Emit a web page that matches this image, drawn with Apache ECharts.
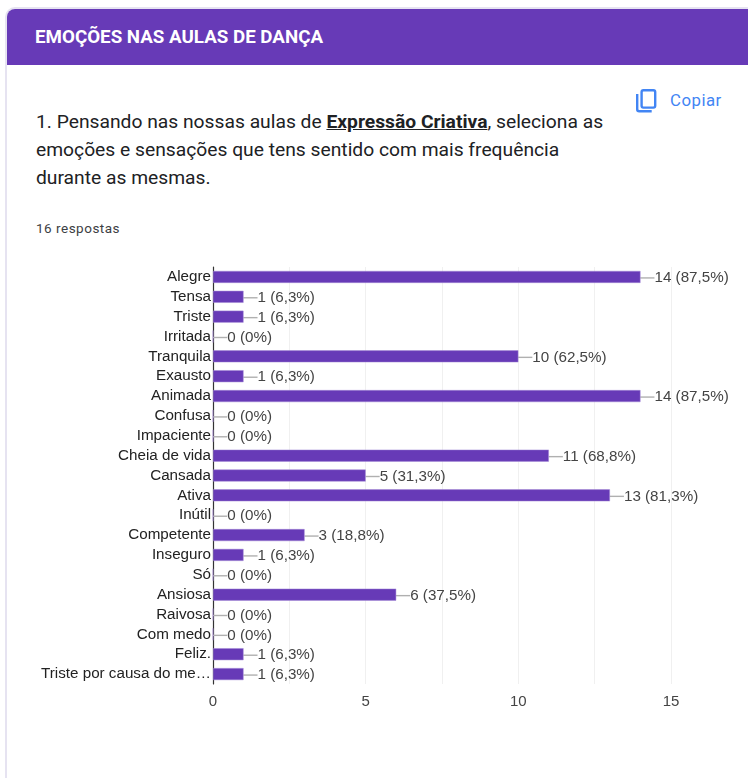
<!DOCTYPE html>
<html><head><meta charset="utf-8">
<script src="https://cdn.jsdelivr.net/npm/echarts@6/dist/echarts.min.js"></script>
<style>
html,body{margin:0;padding:0;background:#fff;width:748px;height:778px;overflow:hidden}
#card{position:absolute;left:5px;top:7px;width:760px;height:800px;border:2px solid #e6e3f1;border-radius:10px;box-sizing:border-box}
#head{position:absolute;left:7px;top:9px;width:741px;height:56px;background:#673ab7;border-radius:8px 0 0 0;}
#htext{position:absolute;left:35px;top:26px;font:700 18.75px/22px Roboto,sans-serif;color:#fff;white-space:nowrap}
#q{position:absolute;left:36px;top:107.5px;font:400 19.25px/28px Roboto,sans-serif;color:#202124;white-space:nowrap}
#q b{font-weight:700;text-decoration:underline}
#n{position:absolute;left:36px;top:220px;font:400 13.5px/17px Roboto,sans-serif;letter-spacing:.5px;color:#3c4043;white-space:nowrap}
#copy{position:absolute;left:670px;top:90px;font:400 16.8px/20px Roboto,sans-serif;letter-spacing:.5px;color:#4285f4}
#icon{position:absolute;left:633px;top:87px}
#c{position:absolute;left:0;top:0;width:748px;height:778px}
</style></head><body>
<div id="card"></div><div id="head"></div>
<div id="htext">EMOÇÕES NAS AULAS DE DANÇA</div>
<div id="q">1. Pensando nas nossas aulas de <b>Expressão Criativa</b>, seleciona as<br>emoções e sensações que tens sentido com mais frequência<br>durante as mesmas.</div>
<div id="n">16 respostas</div>
<svg id="icon" width="26" height="26" viewBox="0 0 26 26" fill="none" stroke="#4285f4" stroke-width="2.4"><path d="M4.2 7v15.2a2 2 0 0 0 2 2h12.5"/><rect x="8.6" y="3.2" width="13.6" height="17.4" rx="1.8"/></svg>
<div id="copy">Copiar</div>
<div id="c"></div>
<script>
const categories=["Alegre","Tensa","Triste","Irritada","Tranquila","Exausto","Animada","Confusa","Impaciente","Cheia de vida","Cansada","Ativa","Inútil","Competente","Inseguro","Só","Ansiosa","Raivosa","Com medo","Feliz.","Triste por causa do me…"];
const counts=[14,1,1,0,10,1,14,0,0,11,5,13,0,3,1,0,6,0,0,1,1];
const percents=["87,5%","6,3%","6,3%","0%","62,5%","6,3%","87,5%","0%","0%","68,8%","31,3%","81,3%","0%","18,8%","6,3%","0%","37,5%","0%","0%","6,3%","6,3%"];
const chart=echarts.init(document.getElementById('c'),null,{renderer:'canvas'});
chart.setOption({
  animation:false,
  grid:{left:213,top:267,width:458,height:417,containLabel:false},
  xAxis:{type:'value',min:0,max:15,interval:2.5,
    axisLine:{show:false},axisTick:{show:false},
    splitLine:{show:true,lineStyle:{color:'#f0f0f0',width:1}},
    axisLabel:{margin:10,fontFamily:'Liberation Sans',fontSize:15,color:'#444',
      formatter:v=>v%5===0?String(v):''}},
  yAxis:{type:'category',data:categories,inverse:true,
    axisLine:{show:true,onZero:false,lineStyle:{color:'#333',width:1.2}},axisTick:{show:false},
    splitLine:{show:false},
    axisLabel:{margin:2,interval:0,fontFamily:'Liberation Sans',fontSize:15.2,color:'#222',padding:[2,0,0,0]}},
  series:[{type:'bar',data:counts,barWidth:12,
    itemStyle:{color:'#673ab7',borderColor:'#a58bd6',borderWidth:0.5},
    label:{show:true,position:'right',distance:0,fontFamily:'Liberation Sans',fontSize:15.2,color:'#444',
      formatter:p=>p.value+' ('+percents[p.dataIndex]+')'},
    labelLayout:{dx:14,dy:1},
    labelLine:{show:true,lineStyle:{color:'#b0b0b0',width:1.4}}}]
});
</script></body></html>
